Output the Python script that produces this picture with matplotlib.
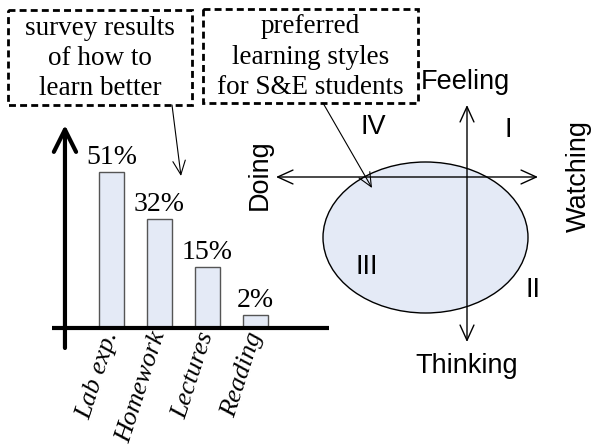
import matplotlib.pyplot as plt
from matplotlib.patches import Ellipse, Rectangle, FancyArrowPatch

categories = ["Lab exp.", "Homework", "Lectures", "Reading"]
percent_labels = ["51%", "32%", "15%", "2%"]
# bar heights as drawn in the source (evenly stepped, not to scale)
bar_heights = [51, 35.6, 19.9, 4.3]

box_texts = ["survey results\nof how to\nlearn better",
             "preferred\nlearning styles\nfor S&E students"]
axis_labels = ["Feeling", "Thinking", "Doing", "Watching"]
quadrant_labels = ["I", "II", "III", "IV"]

W, H = 593, 445
SERIF = "Liberation Serif"
SANS = "Liberation Sans"
FILL = "#e4eaf6"

fig = plt.figure(figsize=(W / 100, H / 100), dpi=100)

# --- bar chart on the left
ax = fig.add_axes([52 / W, 1 - 348 / H, (329 - 52) / W, (348 - 125) / H])
ax.set_xlim(-1.24, 4.53)
ax.set_ylim(-6.5, 66.3)
ax.axis("off")
xs = range(len(categories))
ax.bar(xs, bar_heights, width=0.52, color=FILL, edgecolor="#555555", lw=1, zorder=2)
ax.axhline(0, color="black", lw=3, zorder=3)
ax.annotate("", xy=(-0.97, 66.3), xytext=(-0.97, -6.5),
            arrowprops=dict(arrowstyle="->,head_length=16,head_width=8",
                            mutation_scale=1, lw=3, color="black",
                            shrinkA=0, shrinkB=0))
for i, (h, lbl) in enumerate(zip(bar_heights, percent_labels)):
    ax.annotate(lbl, (i, h), xytext=(0, 6), textcoords="offset points",
                ha="center", va="baseline", fontsize=20, family=SERIF)
for i, cat in enumerate(categories):
    ax.text(i + 0.12, -2.0, cat, rotation=72, rotation_mode="anchor",
            ha="right", va="baseline", style="italic", fontsize=19, family=SERIF)

# --- overlay in pixel coordinates for the diagram parts
ov = fig.add_axes([0, 0, 1, 1])
ov.set_xlim(0, W)
ov.set_ylim(H, 0)
ov.axis("off")
ov.patch.set_alpha(0)

boxes = [(8, 10, 184, 95), (203, 9, 215, 94)]
for (bx, by, bw, bh), txt in zip(boxes, box_texts):
    ov.add_patch(Rectangle((bx, by), bw, bh, fill=False, lw=2,
                           ls=(0, (2.5, 1.5)), ec="black"))
    ov.text(bx + bw / 2, by + bh / 2 + 1, txt, ha="center", va="center",
            fontsize=19.5, family=SERIF, linespacing=1.27)

ov.add_patch(Ellipse((425.5, 237.5), 205, 151, fc=FILL, ec="black", lw=1))

def arrow(p0, p1, style, lw=1):
    ov.add_patch(FancyArrowPatch(p0, p1, arrowstyle=style, mutation_scale=1,
                                 lw=lw, color="black", shrinkA=0, shrinkB=0))

arrow((276, 177), (538, 177), "<->,head_length=11,head_width=5")
arrow((467, 105), (467, 342), "<->,head_length=11,head_width=5")
arrow((172, 105), (181, 176), "->,head_length=10,head_width=4.5", lw=0.8)
arrow((323, 103), (372, 188), "->,head_length=10,head_width=4.5", lw=0.8)

ov.text(465, 82, axis_labels[0], ha="center", va="center", fontsize=19.5, family=SANS)
ov.text(467, 366, axis_labels[1], ha="center", va="center", fontsize=19.5, family=SANS)
ov.text(260, 175, axis_labels[2], ha="center", va="center", rotation=90,
        fontsize=19.5, family=SANS)
ov.text(579, 176, axis_labels[3], ha="center", va="center", rotation=90,
        fontsize=19.5, family=SANS)
quad_pos = [(508, 130), (533, 290), (367, 267), (373, 127)]
for (qx, qy), q in zip(quad_pos, quadrant_labels):
    ov.text(qx, qy, q, ha="center", va="center", fontsize=19.5, family=SANS)

fig.savefig("out.png", dpi=100)
